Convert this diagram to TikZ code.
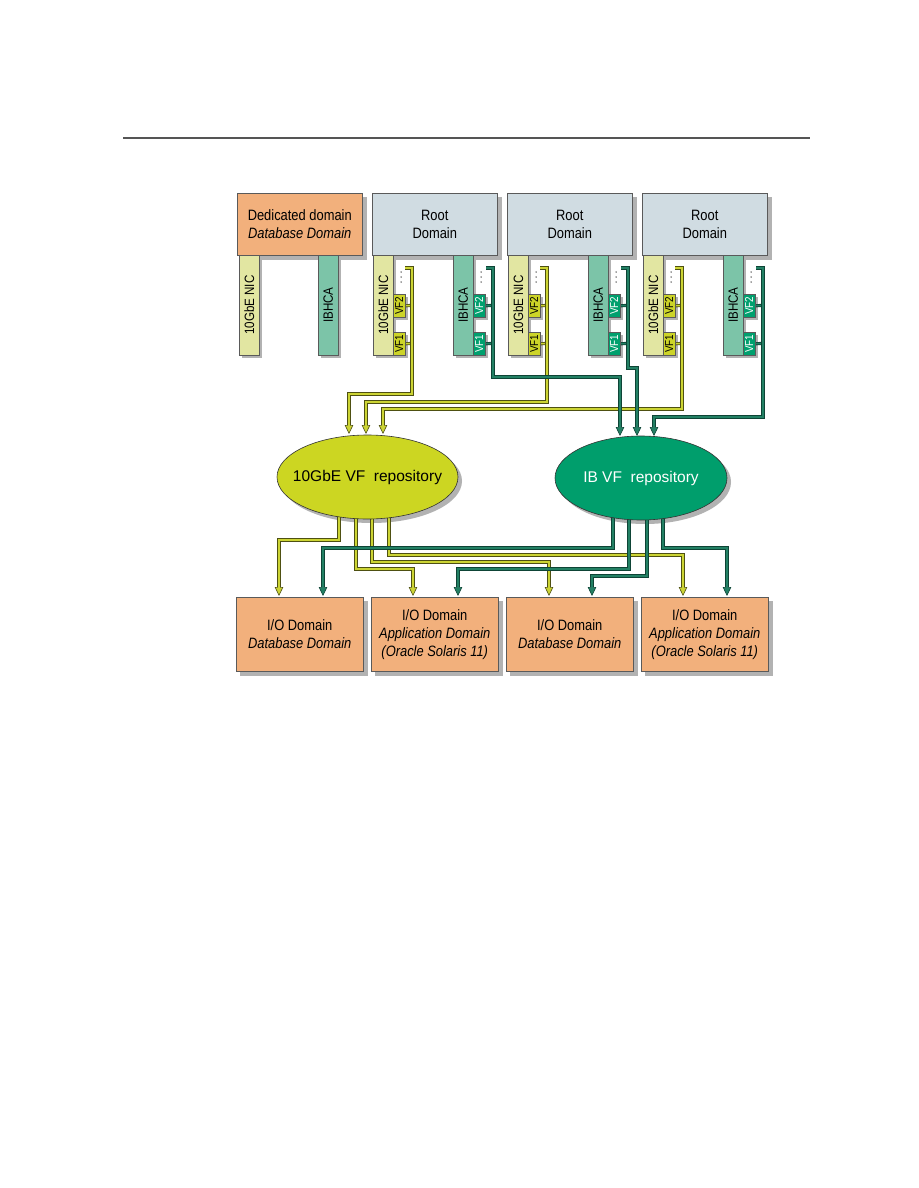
\documentclass[tikz,border=0pt]{standalone}
\usepackage{fontspec}
\setmainfont{Liberation Sans}
\newfontfamily\cond[FakeStretch=0.86]{Liberation Sans}
\usetikzlibrary{arrows.meta,calc,shapes.geometric}
\definecolor{orangebox}{RGB}{242,176,124}
\definecolor{rootbox}{RGB}{208,220,226}
\definecolor{nicbar}{RGB}{226,230,162}
\definecolor{ibbar}{RGB}{124,196,168}
\definecolor{vfy}{RGB}{204,212,40}
\definecolor{vft}{RGB}{0,160,110}
\definecolor{ell1}{RGB}{204,214,34}
\definecolor{ell2}{RGB}{0,158,108}
\definecolor{ycol}{RGB}{204,212,52}
\definecolor{ydark}{RGB}{78,80,18}
\definecolor{tcol}{RGB}{35,128,100}
\definecolor{tdark}{RGB}{14,68,54}
\definecolor{edge}{RGB}{90,90,90}
\definecolor{shadowc}{RGB}{178,178,178}
\definecolor{topline}{RGB}{85,85,85}
\pgfdeclarelayer{paper}
\pgfdeclarelayer{shadow}
\pgfdeclarelayer{conn}
\pgfsetlayers{paper,shadow,conn,main}
\newcommand{\boxfont}{\cond\fontsize{15}{18}\selectfont}
\newcommand{\barfont}{\cond\fontsize{13.5}{14}\selectfont}
\newcommand{\vffont}{\cond\fontsize{11.5}{12}\selectfont}
\newcommand{\shadowof}[2][4]{\begin{pgfonlayer}{shadow}\fill[shadowc] ($(#2.north west)+(#1,#1)$) rectangle ($(#2.south east)+(#1,#1)$);\end{pgfonlayer}}
\newcommand{\yconn}[1]{%
  \draw[ydark, line width=3.2pt, -{Triangle[length=9pt,width=8.5pt,line width=0.6pt,fill=ycol]}] #1;
  \draw[ycol, line width=1.6pt, shorten >=8.5pt] #1;}
\newcommand{\tconn}[1]{%
  \draw[tdark, line width=3.2pt, -{Triangle[length=9pt,width=8.5pt,line width=0.6pt,fill=tcol]}] #1;
  \draw[tcol, line width=1.6pt, shorten >=8.5pt] #1;}
\newcommand{\ystub}[1]{\draw[ydark, line width=3.2pt] #1; \draw[ycol, line width=1.6pt] #1;}
\newcommand{\tstub}[1]{\draw[tdark, line width=3.2pt] #1; \draw[tcol, line width=1.6pt] #1;}
\begin{document}
\begin{tikzpicture}[x=1pt,y=-1pt,
  domainbox/.style={draw=edge, line width=0.5pt, inner sep=0pt, anchor=north west,
    minimum width=125pt, minimum height=62pt, align=center, font=\boxfont},
  iobox/.style={draw=edge, line width=0.5pt, inner sep=0pt, anchor=north west, fill=orangebox,
    minimum width=127pt, minimum height=74pt, align=center, font=\boxfont},
  bar/.style={draw=edge, line width=0.4pt, inner sep=0pt, anchor=north west,
    minimum width=20pt, minimum height=100pt, font=\barfont},
  vfbox/.style={draw=edge, line width=0.4pt, inner sep=0pt, anchor=north west,
    minimum width=12pt, minimum height=23pt, font=\vffont},
  repotext/.style={inner sep=0pt, font=\fontsize{15.5}{18}\selectfont},
  dot/.style={fill=black!75, circle, inner sep=0pt, minimum size=1.5pt}
]
\useasboundingbox (0,0) rectangle (918,1188);
\begin{pgfonlayer}{paper}
\fill[white] (0,0) rectangle (918,1188);
\end{pgfonlayer}
\draw[topline, line width=1.3pt] (123,138) -- (810,138);

% dedicated domain
\node[domainbox, fill=orangebox] (ded) at (237,193) {Dedicated domain\\\itshape Database Domain};
\shadowof{ded}
\node[bar, fill=nicbar] (dnic) at (239,255) {\rotatebox{90}{10GbE NIC}};
\node[bar, fill=ibbar] (dib) at (318,255) {\rotatebox{90}{IBHCA}};
\shadowof[3]{dnic}
\shadowof[3]{dib}

% root domains
\foreach \i/\X in {1/372,2/507,3/642} {
  \node[domainbox, fill=rootbox] (root\i) at (\X,193) {Root\\Domain};
  \shadowof{root\i}
  \node[bar, fill=nicbar] (nic\i) at (\X+1,255) {\rotatebox{90}{10GbE NIC}};
  \node[vfbox, fill=vfy] (nvfb\i) at (\X+21,294) {\rotatebox{90}{VF2}};
  \node[vfbox, fill=vfy] (nvfa\i) at (\X+21,332) {\rotatebox{90}{VF1}};
  \node[bar, fill=ibbar] (ib\i) at (\X+81,255) {\rotatebox{90}{IBHCA}};
  \node[vfbox, fill=vft, text=white] (ivfb\i) at (\X+101,294) {\rotatebox{90}{VF2}};
  \node[vfbox, fill=vft, text=white] (ivfa\i) at (\X+101,332) {\rotatebox{90}{VF1}};
  \shadowof[3]{nic\i}
  \shadowof[3]{nvfb\i}
  \shadowof[3]{nvfa\i}
  \shadowof[3]{ib\i}
  \shadowof[3]{ivfb\i}
  \shadowof[3]{ivfa\i}
  \foreach \dy in {272,277,282} {
    \node[dot] at (\X+29,\dy) {};
    \node[dot] at (\X+109,\dy) {};
  }
  \begin{pgfonlayer}{conn}
    \ystub{(nvfb\i.east) -- (\X+40,305.5)}
    \ystub{(nvfa\i.east) -- (\X+40,343.5)}
    \tstub{(ivfb\i.east) -- (\X+121,305.5)}
    \tstub{(ivfa\i.east) -- (\X+121,343.5)}
  \end{pgfonlayer}
}

% repositories
\coordinate (e1c) at (367.5,477);
\coordinate (e2c) at (641,478);
\begin{pgfonlayer}{shadow}
  \fill[shadowc] ($(e1c)+(4,4)$) ellipse [x radius=90.5, y radius=42];
  \fill[shadowc] ($(e2c)+(4,4)$) ellipse [x radius=86, y radius=42];
\end{pgfonlayer}
\filldraw[fill=ell1, draw=black!80, line width=0.6pt] (e1c) ellipse [x radius=90.5, y radius=42];
\filldraw[fill=ell2, draw=black!80, line width=0.6pt] (e2c) ellipse [x radius=86, y radius=42];
\node[repotext] (e1) at (e1c) {10GbE VF\ \ repository};
\node[repotext, text=white] (e2) at (e2c) {IB VF\ \ repository};

% I/O domains
\node[iobox] (io1) at (236,597) {I/O Domain\\\itshape Database Domain};
\node[iobox] (io2) at (371,597) {I/O Domain\\\itshape Application Domain\\\itshape (Oracle Solaris 11)};
\node[iobox] (io3) at (506,597) {I/O Domain\\\itshape Database Domain};
\node[iobox] (io4) at (641,597) {I/O Domain\\\itshape Application Domain\\\itshape (Oracle Solaris 11)};
\foreach \n in {io1,io2,io3,io4} {\shadowof{\n}}

\begin{pgfonlayer}{conn}
  % top connectors, yellow
  \yconn{(405,268) -- (412,268) -- (412,394) -- (349,394) -- (349,434)}
  \yconn{(540,268) -- (547,268) -- (547,402) -- (366,402) -- (366,434)}
  \yconn{(675,268) -- (682,268) -- (682,409) -- (383,409) -- (383,434)}
  % top connectors, teal
  \tconn{(486,268) -- (493,268) -- (493,377) -- (620,377) -- (620,436)}
  \tconn{(621,268) -- (628,268) -- (628,368) -- (637,368) -- (637,436)}
  \tconn{(756,268) -- (763,268) -- (763,417) -- (654,417) -- (654,436)}
  % bottom connectors, yellow
  \yconn{(339,500) -- (339,540) -- (279,540) -- (279,596)}
  \yconn{(356,500) -- (356,569) -- (413,569) -- (413,596)}
  \yconn{(372,500) -- (372,562) -- (549,562) -- (549,596)}
  \yconn{(389,500) -- (389,555) -- (683,555) -- (683,596)}
  % bottom connectors, teal
  \tconn{(613,500) -- (613,548) -- (323,548) -- (323,596)}
  \tconn{(629,500) -- (629,569) -- (458,569) -- (458,596)}
  \tconn{(647,500) -- (647,576) -- (592,576) -- (592,596)}
  \tconn{(663,500) -- (663,548) -- (727,548) -- (727,596)}
\end{pgfonlayer}
\end{tikzpicture}
\end{document}
